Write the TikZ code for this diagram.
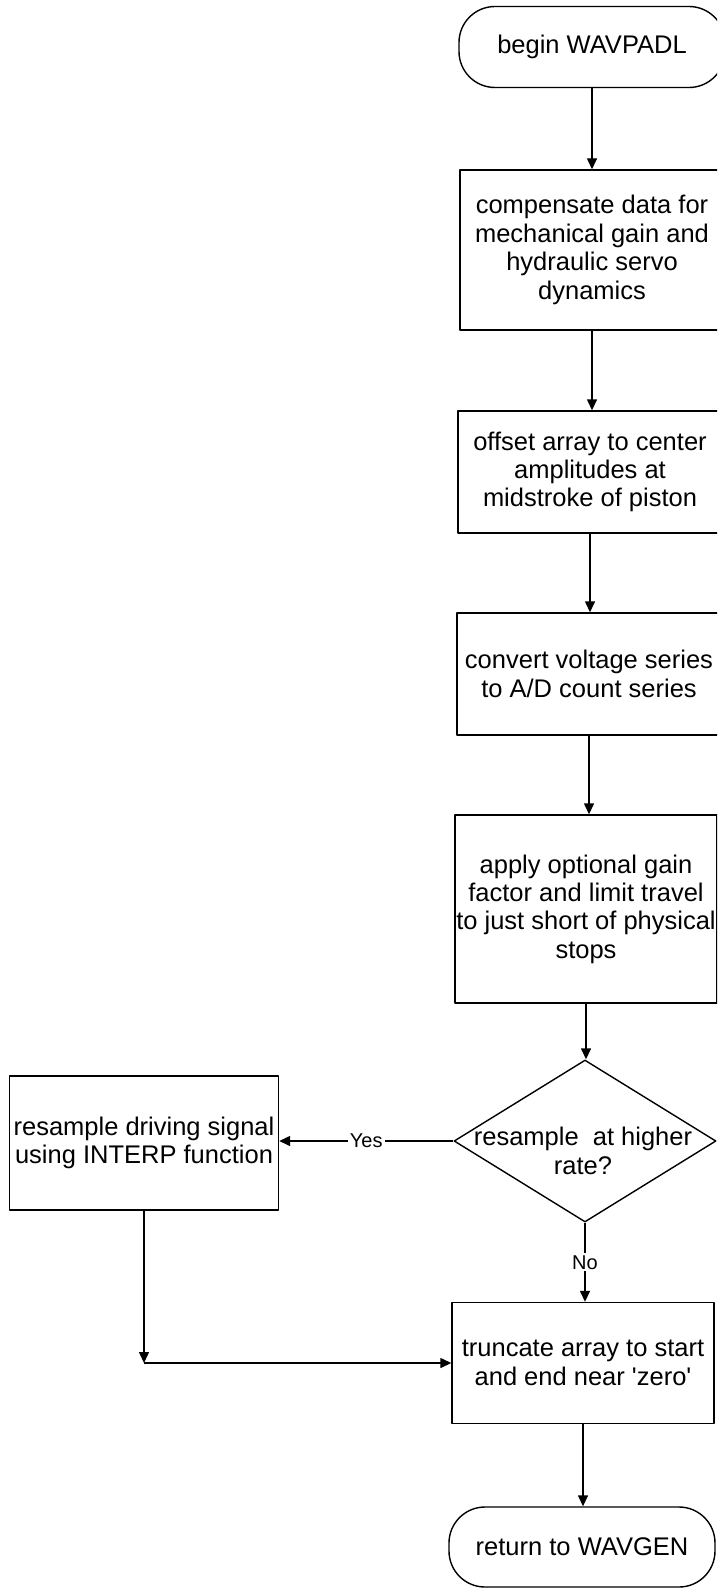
\documentclass[tikz,border=0pt]{standalone}
\usepackage{fontspec}
\setmainfont{Liberation Sans}[Ligatures=TeXOff]
\usetikzlibrary{arrows.meta,shapes.geometric}
\begin{document}
\begin{tikzpicture}[x=0.5pt, y=-0.5pt, font=\fontsize{12.75}{14.2}\selectfont, line width=0.7pt, line join=round, >={Triangle[length=5.5pt,width=5pt]},
	proc/.style={draw, align=center, inner sep=0pt, minimum width=132pt},
	term/.style={draw, rounded corners=18pt, align=center, minimum width=133pt, minimum height=40.5pt},
	decide/.style={draw, diamond, inner sep=0pt, minimum width=131pt, minimum height=81pt},
	lab/.style={fill=white, inner sep=1pt, font=\fontsize{10}{12}\selectfont}]
				\clip (0,0) rectangle (717,1589);
				\node[term] (start) at (592,47) {begin WAVPADL};
				\node[proc, minimum height=80pt] (comp) at (592,250) {compensate data for\\mechanical gain and\\hydraulic servo\\dynamics};
				\node[proc, minimum height=61pt] (offs) at (590,472) {offset array to center\\amplitudes at\\midstroke of piston};
				\node[proc, minimum height=61pt] (conv) at (589,674) {convert voltage series\\to A/D count series};
				\node[proc, minimum height=94pt, minimum width=131pt] (gain) at (586,909) {apply optional gain\\factor and limit travel\\to just short of physical\\stops};
				\node[decide] (dec) at (585,1141) {};
				\node[align=center] (dectxt) at (583,1151) {resample\ \ at higher\\rate?};
				\node[proc, minimum height=67pt, minimum width=134.5pt] (resamp) at (144,1143) {resample driving signal\\using INTERP function};
				\node[proc, minimum height=60.5pt, minimum width=131pt] (trunc) at (583,1363) {truncate array to start\\and end near 'zero'};
				\node[term, minimum height=40pt] (ret) at (582,1547) {return to WAVGEN};
				\coordinate (bend) at (resamp.south |- trunc.west);
				\foreach \a/\b in {start/comp,comp/offs,offs/conv,conv/gain,gain/dec,trunc/ret}
					\draw[->] (\a.south)--(\a.south |- \b.north);
				\draw[->] (dec.west)--node[lab]{Yes}(dec.west -| resamp.east);
				\draw[->] (dec.south)--node[lab]{No}(dec.south |- trunc.north);
				\draw[->] (resamp.south)--(bend);
				\draw[->] (bend)--(trunc.west);
			\end{tikzpicture}
\end{document}
